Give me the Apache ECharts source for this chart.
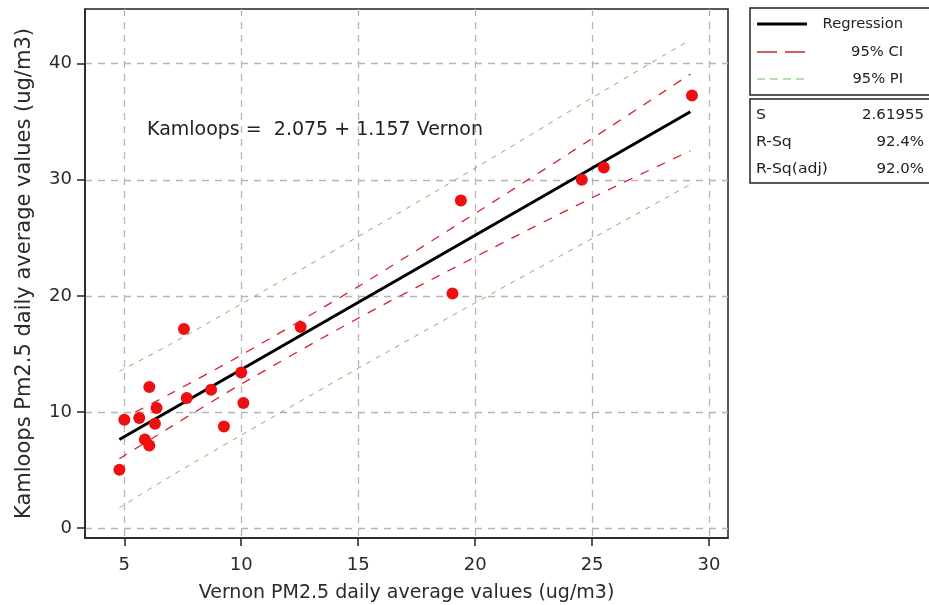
<!DOCTYPE html>
<html><head><meta charset="utf-8">
<script src="https://cdn.jsdelivr.net/npm/echarts@6/dist/echarts.min.js"></script>
<style>html,body{margin:0;padding:0;background:#fff}#c{width:929px;height:605px}</style>
</head><body><div id="c"></div>
<script>
// Observations (Vernon x, Kamloops y)
var vernon   = [4.79, 5.00, 5.64, 6.07, 5.88, 6.07, 6.38, 6.31, 7.55, 7.67, 8.71, 9.26, 10.00, 10.09, 12.54, 19.03, 19.39, 24.56, 25.50, 29.27];
var kamloops = [5.02, 9.33, 9.47, 12.14, 7.62, 7.11, 10.34, 8.98, 17.14, 11.20, 11.91, 8.75, 13.40, 10.77, 17.31, 20.20, 28.22, 30.00, 31.06, 37.26];
// Fitted line ends
var fitX = [4.79, 29.20];
var fitY = [7.62, 35.86];
// Confidence / prediction bands, read at several x positions
var bandX   = [4.79, 7.0, 10.0, 15.0, 20.0, 25.0, 29.20];
var ciUpper = [9.27, 11.60, 14.90, 20.80, 27.10, 33.55, 39.10];
var ciLower = [5.97, 8.73, 12.40, 18.07, 23.35, 28.45, 32.50];
var piUpper = [13.50, 15.86, 19.30, 25.10, 31.00, 37.06, 42.06];
var piLower = [1.74, 4.48, 8.00, 13.76, 19.40, 24.94, 29.60];
var xTicks = [5, 10, 15, 20, 25, 30];
var yTicks = [0, 10, 20, 30, 40];

function pairs(xs, ys){ return xs.map(function(x,i){ return [x, ys[i]]; }); }

var FONT = 'Tahoma, "DejaVu Sans", "Liberation Sans", sans-serif';
var chart = echarts.init(document.getElementById('c'), null, {renderer:'canvas'});
var axisCommon = {
  axisLine:{show:true, onZero:false, lineStyle:{color:'#222', width:1.5}},
  axisTick:{show:true, inside:false, length:8, lineStyle:{color:'#222', width:1.5}},
  splitLine:{show:true, lineStyle:{color:'#b5b5b5', width:1.3, type:[7,6]}}
};
function txt(x, y, s, size, align, sx){
  return {type:'text', x:x, y:y, scaleX:sx||1, style:{text:s, font:size+'px '+FONT, fill:'#222', align:align||'left', verticalAlign:'middle'}};
}
chart.setOption({
  animation:false,
  backgroundColor:'#fff',
  grid:{left:85, top:9, right:201, bottom:67, show:true, borderColor:'#222', borderWidth:1.5, backgroundColor:'#fff', containLabel:false, outerBoundsMode:'none'},
  xAxis: Object.assign({}, axisCommon, {
    type:'value', min:3.32, max:30.81,
    axisTick:Object.assign({}, axisCommon.axisTick, {customValues:xTicks}),
    axisLabel:{customValues:xTicks, margin:18, color:'#2a2a2a', fontSize:18, fontFamily:FONT},
    name:'Vernon PM2.5 daily average values (ug/m3)', nameLocation:'middle', nameGap:46,
    nameTextStyle:{color:'#2a2a2a', fontSize:19, fontFamily:FONT}
  }),
  yAxis: Object.assign({}, axisCommon, {
    type:'value', min:-0.86, max:44.71,
    axisTick:Object.assign({}, axisCommon.axisTick, {customValues:yTicks}),
    axisLabel:{customValues:yTicks, margin:13, color:'#2a2a2a', fontSize:18, fontFamily:FONT},
    name:'Kamloops Pm2.5 daily average values (ug/m3)', nameLocation:'middle', nameGap:50,
    nameTextStyle:{color:'#2a2a2a', fontSize:21, fontFamily:FONT}
  }),
  series:[
    {type:'line', data:pairs(bandX, piUpper), smooth:0.3, symbol:'none', lineStyle:{color:'#6cbf5a', width:1, type:[5,6]}, z:2},
    {type:'line', data:pairs(bandX, piLower), smooth:0.3, symbol:'none', lineStyle:{color:'#6cbf5a', width:1, type:[5,6]}, z:2},
    {type:'line', data:pairs(bandX, ciUpper), smooth:0.3, symbol:'none', lineStyle:{color:'#d8202a', width:1.3, type:[9,9]}, z:3},
    {type:'line', data:pairs(bandX, ciLower), smooth:0.3, symbol:'none', lineStyle:{color:'#d8202a', width:1.3, type:[9,9]}, z:3},
    {type:'line', data:pairs(fitX, fitY), symbol:'none', lineStyle:{color:'#000', width:3}, z:4},
    {type:'scatter', data:pairs(vernon, kamloops), symbol:'circle', symbolSize:12, itemStyle:{color:'#ee1010', opacity:1}, z:5}
  ],
  graphic:[
    {type:'text', x:147, y:130, style:{text:'Kamloops =  2.075 + 1.157 Vernon', font:'19px '+FONT, fill:'#222', verticalAlign:'middle'}},
    // legend box
    {type:'rect', shape:{x:750, y:8, width:180, height:87}, style:{fill:'#fff', stroke:'#222', lineWidth:1.5}},
    {type:'line', shape:{x1:757, y1:24, x2:807, y2:24}, style:{stroke:'#000', lineWidth:3}},
    txt(903, 24, 'Regression', 14, 'right', 1.05),
    {type:'line', shape:{x1:757, y1:52, x2:807, y2:52}, style:{stroke:'#d8202a', lineWidth:1.3, lineDash:[20,8]}},
    txt(903, 52, '95% CI', 14, 'right', 1.05),
    {type:'line', shape:{x1:757, y1:79, x2:807, y2:79}, style:{stroke:'#6cbf5a', lineWidth:1, lineDash:[8,5]}},
    txt(903, 79, '95% PI', 14, 'right', 1.05),
    // stats box
    {type:'rect', shape:{x:750, y:99, width:180, height:84}, style:{fill:'#fff', stroke:'#222', lineWidth:1.5}},
    txt(756, 115, 'S', 14, 'left', 1.12),
    txt(924, 115, '2.61955', 14, 'right', 1.07),
    txt(756, 142, 'R-Sq', 14, 'left', 1.12),
    txt(924, 142, '92.4%', 14, 'right', 1.07),
    txt(756, 169, 'R-Sq(adj)', 14, 'left', 1.12),
    txt(924, 169, '92.0%', 14, 'right', 1.07)
  ]
});
</script></body></html>
